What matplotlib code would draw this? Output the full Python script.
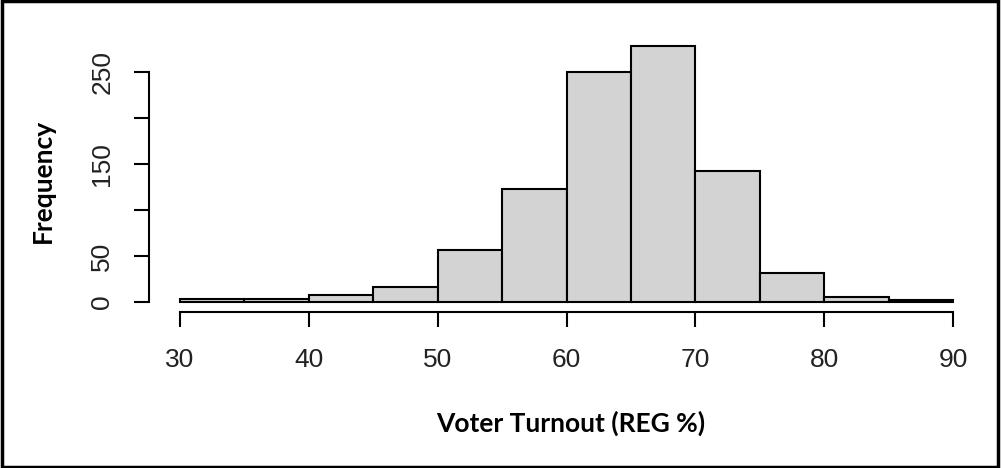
import matplotlib
matplotlib.use("Agg")
from matplotlib import pyplot as plt
from matplotlib.patches import Rectangle

# histogram data
bin_edges = [30, 35, 40, 45, 50, 55, 60, 65, 70, 75, 80, 85, 90]
counts = [3, 3, 7, 16, 56, 123, 250, 279, 143, 31, 5, 2]

x_ticks = [30, 40, 50, 60, 70, 80, 90]
y_ticks = [0, 50, 100, 150, 200, 250]
y_tick_labels = ['0', '50', '', '150', '', '250']

x_label = 'Voter Turnout (REG %)'
y_label = 'Frequency'

fig = plt.figure(figsize=(10.01, 4.68), dpi=100)
ax = fig.add_axes([0.1489, 0.3333, 0.983 - 0.1489, 0.9241 - 0.3333])

widths = [bin_edges[i + 1] - bin_edges[i] for i in range(len(counts))]
ax.bar(bin_edges[:-1], counts, width=widths, align='edge',
       color='#d3d3d3', edgecolor='black', linewidth=1.5)

# R style limits (4% padding)
xr = bin_edges[-1] - bin_edges[0]
yr = max(counts)
ax.set_xlim(bin_edges[0] - 0.04 * xr, bin_edges[-1] + 0.04 * xr)
ax.set_ylim(-0.04 * yr, yr * 1.04)

for s in ['top', 'right']:
    ax.spines[s].set_visible(False)
ax.spines['left'].set_bounds(y_ticks[0], y_ticks[-1])
ax.spines['bottom'].set_bounds(x_ticks[0], x_ticks[-1])
ax.spines['left'].set_linewidth(1.5)
ax.spines['bottom'].set_linewidth(1.5)
ax.patch.set_visible(False)

ax.set_xticks(x_ticks)
ax.set_xticklabels([str(v) for v in x_ticks], fontfamily='Liberation Sans', fontsize=19)
ax.set_yticks(y_ticks)
ax.set_yticklabels(y_tick_labels, fontfamily='Liberation Sans', fontsize=19,
                   rotation=90, va='center')
ax.tick_params(axis='x', length=11, width=1.5, pad=15, colors='black')
ax.tick_params(axis='y', length=11, width=1.5, pad=14, colors='black')
for lbl in ax.get_xticklabels() + ax.get_yticklabels():
    lbl.set_color('#222222')

fig.text(571 / 1001, 1 - 423 / 468, x_label, ha='center', va='center',
         fontfamily='Lato', fontweight='bold', fontsize=19)
fig.text(43 / 1001, 1 - 181 / 468, y_label, ha='center', va='center',
         rotation=90, fontfamily='Lato', fontweight='bold', fontsize=19)

# outer frame around the whole picture
fig.patches.append(Rectangle((0.0015, 0.003), 0.996, 0.994, transform=fig.transFigure,
                             fill=False, edgecolor='black', linewidth=2.5))

fig.savefig('out.png', dpi=100)
